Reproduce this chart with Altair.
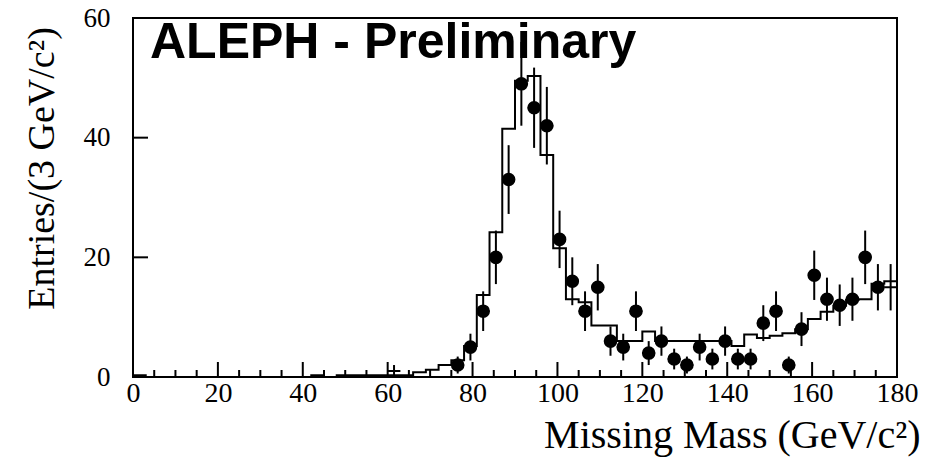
import altair as alt
import pandas as pd
import numpy as np

# Monte Carlo histogram (3 GeV bins from 0 to 180)
bin_edges = [0, 3, 6, 9, 12, 15, 18, 21, 24, 27, 30, 33, 36, 39, 42, 45, 48, 51, 54, 57,
             60, 63, 66, 69, 72, 75, 78, 81, 84, 87, 90, 93, 96, 99, 102, 105, 108, 111, 114, 117,
             120, 123, 126, 129, 132, 135, 138, 141, 144, 147, 150, 153, 156, 159, 162, 165, 168, 171, 174, 177,
             180]
mc_values = [0.3, 0, 0, 0, 0, 0, 0, 0, 0, 0, 0, 0, 0, 0, 0.3, 0, 0.3, 0.3, 0.3, 0.3,
             0.3, 0.3, 0.8, 1.2, 2.0, 2.8, 5.2, 13.7, 24.2, 41.5, 49.5, 50.3, 37.1, 21.5, 13.0, 12.5, 8.6, 8.6, 6.0, 6.0,
             7.6, 6.0, 6.0, 6.0, 6.0, 6.0, 6.0, 5.2, 7.1, 6.5, 6.9, 7.3, 8.0, 9.7, 10.9, 11.9, 12.9, 13.0, 15.6, 16.0]

# Data points (bin centres, counts); marker flag: dot drawn or not
pt_center = [61.5, 76.5, 79.5, 82.5, 85.5, 88.5, 91.5, 94.5, 97.5, 100.5, 103.5, 106.5, 109.5, 112.5,
             115.5, 118.5, 121.5, 124.5, 127.5, 130.5, 133.5, 136.5, 139.5, 142.5, 145.5, 148.5,
             151.5, 154.5, 157.5, 160.5, 163.5, 166.5, 169.5, 172.5, 175.5, 178.5]
pt_count = [1, 2, 5, 11, 20, 33, 49, 45, 42, 23, 16, 11, 15, 6,
            5, 11, 4, 6, 3, 2, 5, 3, 6, 3, 3, 9,
            11, 2, 8, 17, 13, 12, 13, 20, 15, 15]
pt_marker = [False] + [True] * 34 + [False]

x_major = [0, 20, 40, 60, 80, 100, 120, 140, 160, 180]
x_minor = [5, 10, 15, 25, 30, 35, 45, 50, 55, 65, 70, 75, 85, 90, 95, 105, 110, 115,
           125, 130, 135, 145, 150, 155, 165, 170, 175]
y_labels = [0, 20, 40, 60]
y_major = [20, 40]

W, H = 764, 359
SERIF = "Liberation Serif"

hist = pd.DataFrame({"edge": bin_edges, "val": mc_values + [mc_values[-1]]})
pts = pd.DataFrame({"c": pt_center, "n": pt_count, "m": pt_marker})
pts["lo"] = pts["n"] - np.sqrt(pts["n"])
pts["hi"] = pts["n"] + np.sqrt(pts["n"])
pts["xl"] = pts["c"] - 1.5
pts["xr"] = pts["c"] + 1.5

xs = alt.Scale(domain=[0, 180], nice=False, zero=False)
ys = alt.Scale(domain=[0, 60], nice=False)

XT = "Missing Mass (GeV/c²)"
YT = "Entries/(3 GeV/c²)"
xaxis = alt.Axis(
    values=x_major, format="d", grid=False, ticks=False, domain=False, tickSize=0,
    labelFont=SERIF, labelFontSize=28, labelColor="black", labelPadding=2,
    labelFlush=False, labelOverlap=False,
    title=XT, titleFont=SERIF, titleFontSize=40, titleFontWeight="normal",
    titleColor="black", titleX=787, titleY=70, titleAlign="right", titleBaseline="alphabetic")
yaxis = alt.Axis(
    values=y_labels, format="d", grid=False, ticks=False, domain=False, tickSize=0,
    labelFont=SERIF, labelFontSize=27, labelColor="black", labelPadding=23,
    labelFlush=False, labelOverlap=False,
    title=YT, titleFont=SERIF, titleFontSize=38, titleFontWeight="normal",
    titleColor="black", titleAngle=270, titleX=-80, titleY=150, titleAlign="center",
    titleBaseline="alphabetic")


def X(f):
    return alt.X(f, scale=xs, axis=xaxis, title=XT)


def Y(f):
    return alt.Y(f, scale=ys, axis=yaxis, title=YT)


line = alt.Chart(hist).mark_line(interpolate="step-after", color="black", strokeWidth=2).encode(
    x=X("edge:Q"), y=Y("val:Q"))

ebar = alt.Chart(pts).mark_rule(color="black", strokeWidth=2).encode(
    x=X("c:Q"), y=Y("lo:Q"), y2="hi:Q")
xbar = alt.Chart(pts).mark_rule(color="black", strokeWidth=2).encode(
    x=X("xl:Q"), x2="xr:Q", y=Y("n:Q"))
dots = alt.Chart(pts).transform_filter("datum.m").mark_point(
    shape="circle", filled=True, color="black", opacity=1, size=185).encode(
    x=X("c:Q"), y=Y("n:Q"))

xmaj = alt.Chart(pd.DataFrame({"t": x_major})).mark_rule(color="black", strokeWidth=2).encode(
    x=X("t:Q"), y=alt.value(H), y2=alt.value(H - 15))
xmin = alt.Chart(pd.DataFrame({"t": x_minor})).mark_rule(color="black", strokeWidth=2).encode(
    x=X("t:Q"), y=alt.value(H), y2=alt.value(H - 7))
ymaj = alt.Chart(pd.DataFrame({"t": y_major})).mark_rule(color="black", strokeWidth=2).encode(
    y=Y("t:Q"), x=alt.value(0), x2=alt.value(15))

label = alt.Chart(pd.DataFrame({"s": ["ALEPH - Preliminary"]})).mark_text(
    font="Liberation Sans", fontWeight="bold", fontSize=50, align="left", baseline="alphabetic",
    color="black").encode(text="s:N", x=alt.value(17), y=alt.value(40))

chart = alt.layer(line, ebar, xbar, dots, xmaj, xmin, ymaj, label).properties(
    width=W, height=H,
    autosize=alt.AutoSizeParams(type="none"),
    padding={"left": 133, "top": 18, "right": 36, "bottom": 85},
    background="white",
).configure_view(stroke="black", strokeWidth=2)

chart.save("out.html", embed_options={"renderer": "svg", "actions": False})
